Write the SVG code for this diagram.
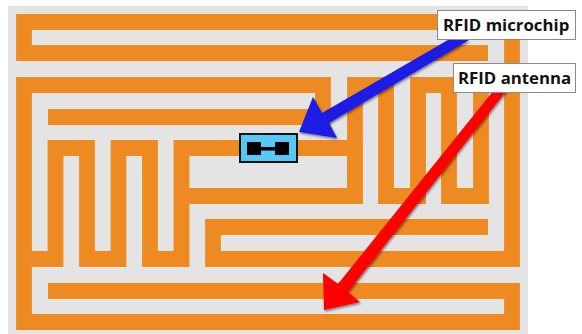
<svg xmlns="http://www.w3.org/2000/svg" width="582" height="334" viewBox="0 0 582 334">
<defs>
<style>
.t{fill:none;stroke:#ee8a22;stroke-width:15.8;stroke-linejoin:miter;stroke-linecap:butt}
.lab{fill:#fff;stroke:#8a8a8a;stroke-width:1}
text{font-family:"Open Sans","Liberation Sans",sans-serif;font-weight:700;font-size:16.8px;fill:#111}
</style>
<filter id="sh" x="-20%" y="-20%" width="140%" height="140%"><feDropShadow dx="1" dy="1.500" stdDeviation="1" flood-color="#000" flood-opacity=".5"/></filter>
</defs>
<rect width="582" height="334" fill="#fff"/>
<rect x="8" y="6" width="520" height="328" fill="#e4e4e4"/>
<g id="antenna">
<path class="t" d="M488 53H24V22H512V259H213V227H488"/>
<path class="t" d="M48 117H323V85H24V322H512V291H48"/>
<path class="t" d="M24 259H55.500V148H87V259H118.500V148H150V259H181.500V148H355V196H181.500"/>
<path class="t" d="M355 204V85H386V196H418V85H449V196H481V77"/>
</g>
<g id="connectors">
<path d="M299 132L313 97L322 113L448 40L469 40L329 123L337 138Z" fill="#1a1ae6" filter="url(#sh)"/>
<path d="M324 310L323 273L338 284L494 90L507 90L348 292L360 302Z" fill="#f00" filter="url(#sh)"/>
</g>
<g id="chip">
<rect x="240" y="134" width="57" height="28" fill="#55c8f5" stroke="#111" stroke-width="2"/>
<rect x="247" y="142" width="14" height="13" fill="#000"/>
<rect x="275" y="142" width="14" height="13" fill="#000"/>
<rect x="260" y="147" width="16" height="3.500" fill="#000"/>
</g>
<g id="label-microchip">
<rect class="lab" x="437.500" y="10.500" width="138" height="29"/>
<text x="443" y="31">RFID microchip</text>
</g>
<g id="label-antenna">
<rect class="lab" x="453.500" y="63.500" width="122" height="29"/>
<text x="458" y="84">RFID antenna</text>
</g>
</svg>
